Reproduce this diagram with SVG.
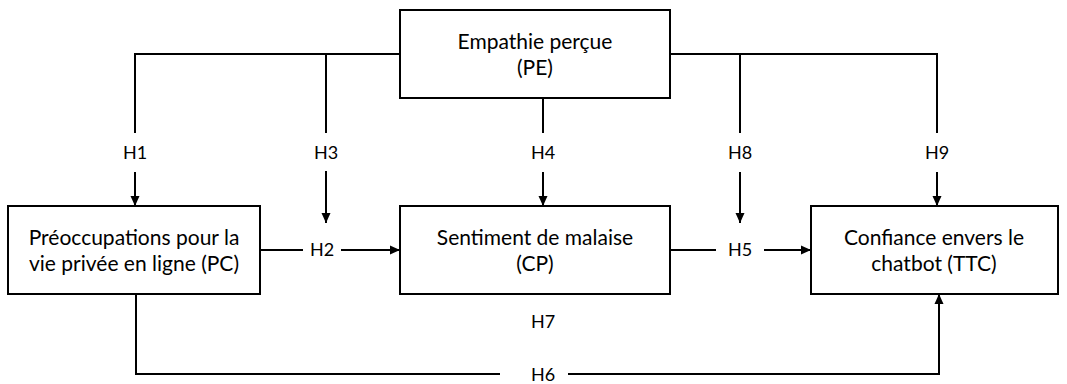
<svg xmlns="http://www.w3.org/2000/svg" width="1067" height="384" viewBox="0 0 1067 384">
<defs>
<marker id="ah" markerUnits="userSpaceOnUse" markerWidth="10" markerHeight="10" viewBox="0 0 10 10" refX="10" refY="5" orient="auto">
<path d="M0,0.5 L10,5 L0,9.5 Z" fill="#000"/>
</marker>
<style>
.box{fill:#fff;stroke:#000;stroke-width:2}
.ln{fill:none;stroke:#000;stroke-width:2}
.ar{fill:none;stroke:#000;stroke-width:2;marker-end:url(#ah)}
text{font-family:Lato,"Open Sans","Liberation Sans",sans-serif;font-size:21px;fill:#000;text-anchor:middle}
.h{font-size:18px}
</style>
</defs>
<rect width="1067" height="384" fill="#fff"/>
<g id="PE"><rect class="box" x="400" y="10" width="270" height="88"/><text x="535" y="49">Empathie perçue</text><text x="535" y="75">(PE)</text></g>
<g id="PC"><rect class="box" x="8" y="206" width="252" height="88"/><text x="134" y="245">Préoccupations pour la</text><text x="134" y="271">vie privée en ligne (PC)</text></g>
<g id="CP"><rect class="box" x="400" y="206" width="270" height="88"/><text x="535" y="245">Sentiment de malaise</text><text x="535" y="271">(CP)</text></g>
<g id="TTC"><rect class="box" x="811" y="206" width="247" height="88"/><text x="934" y="245">Confiance envers le</text><text x="934" y="271">chatbot (TTC)</text></g>
<g id="connectors">
<path class="ln" d="M400,54 H135 V133"/><path class="ln" d="M326,54 V133"/><path class="ln" d="M670,54 H937 V133"/><path class="ln" d="M740,54 V133"/><path class="ln" d="M543,98 V133"/>
<path class="ar" d="M135,172 V206"/><path class="ar" d="M326,171 V223"/><path class="ar" d="M543,172 V206"/><path class="ar" d="M740,172 V223"/><path class="ar" d="M937,172 V206"/>
<path class="ln" d="M260,250 H303"/><path class="ar" d="M341,250 H400"/>
<path class="ln" d="M670,250 H716"/><path class="ar" d="M764,250 H811"/>
<path class="ln" d="M136,294 V374 H500"/><path class="ar" d="M568,374 H939 V294"/>
<text class="h" x="135" y="159">H1</text><text class="h" x="326" y="159">H3</text><text class="h" x="543" y="159">H4</text><text class="h" x="740" y="159">H8</text><text class="h" x="937" y="159">H9</text>
<text class="h" x="322" y="256">H2</text><text class="h" x="740" y="256">H5</text><text class="h" x="543" y="328">H7</text><text class="h" x="543" y="381">H6</text>
</g>
</svg>
